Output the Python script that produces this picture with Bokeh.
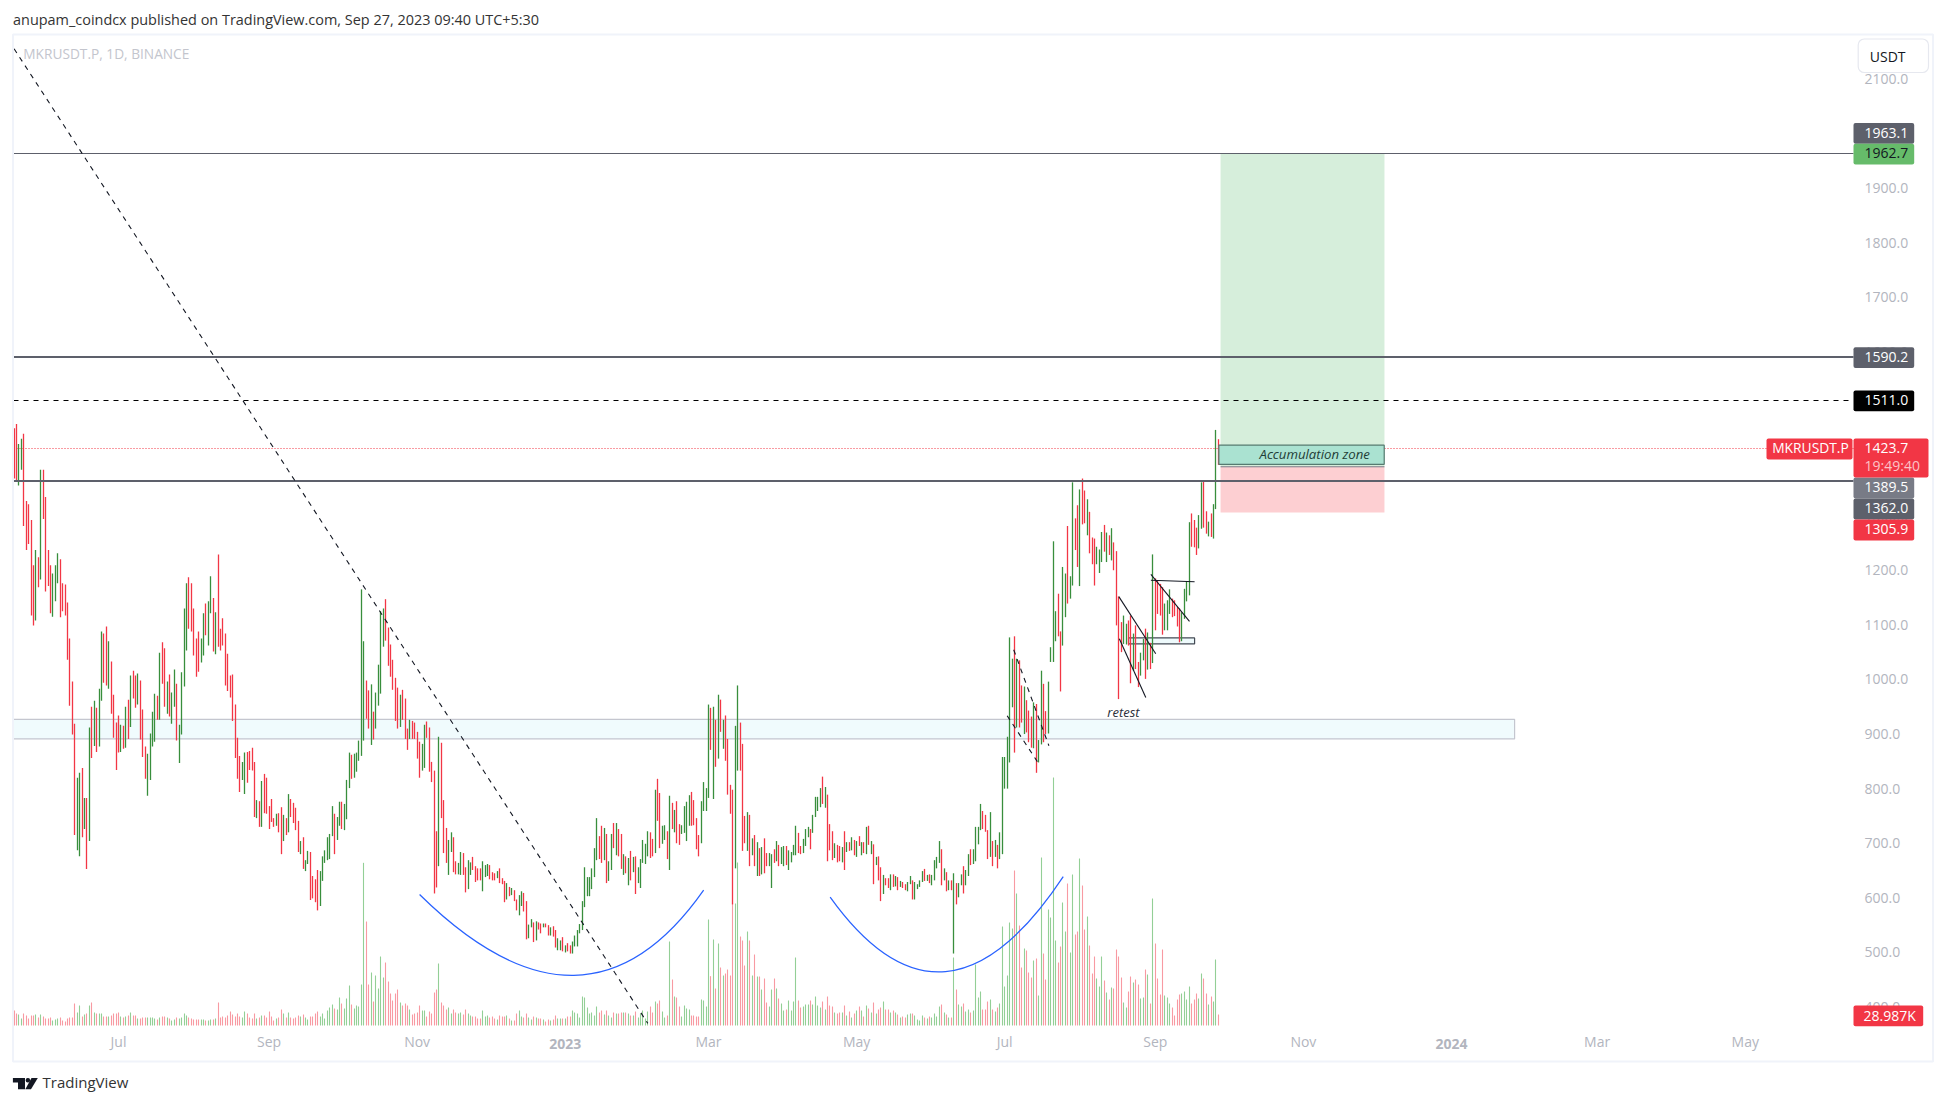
from bokeh.plotting import figure
from bokeh.models import Range1d, BoxAnnotation, Label, FixedTicker, NumeralTickFormatter, PolyAnnotation, LinearAxis
from bokeh.embed import file_html
from bokeh.resources import INLINE

FONT = "Open Sans"
GREEN, RED = "#388e3c", "#f23645"
VOL_GREEN, VOL_RED = "#93cf96", "#f89aa2"
GREY = "#5d606b"
AXIS_TXT = "#b2b5be"

# ---- daily bars, MKRUSDT.P (first bar 43 days before 1 Jul 2022) ----
first_day = -43
highs = [
 1460,1468,1431,1441,1450,1327,1321,1292,1209,1237,1224,1384,1384,1334,1237,1209,1194,1209,1231,1220,
 1176,1174,1141,1075,996,919,820,829,838,783,783,912,950,961,948,983,1088,1084,1097,1070,
 1033,972,921,934,917,915,950,963,1007,1016,1007,1011,998,945,877,864,901,941,974,970,
 1049,1068,1057,996,1009,976,1018,992,917,1013,1130,1176,1187,1176,1130,1075,1088,1075,1121,1139,
 1143,1189,1149,1123,1229,1093,1112,1084,1047,1007,1009,954,893,860,849,866,867,869,875,849,
 779,777,814,827,820,768,781,746,754,755,766,752,746,790,781,774,765,741,704,711,
 669,686,684,640,634,651,649,676,687,711,717,768,754,748,776,776,772,816,866,862,
 864,866,888,1165,1070,998,980,991,941,976,1027,1125,1130,1147,1095,1064,1036,1003,985,972,
 981,965,910,926,924,921,904,886,882,917,923,912,849,833,722,895,884,779,728,706,
 720,711,667,664,684,682,656,669,665,675,658,654,654,667,660,662,660,647,645,649,
 654,636,631,627,620,618,614,597,605,612,609,594,551,561,555,557,555,553,553,553,
 550,546,548,541,526,522,528,513,517,513,520,531,541,552,594,656,638,638,654,691,
 746,713,732,728,717,667,717,737,737,726,717,680,676,673,686,675,676,656,671,706,
 699,722,720,708,798,818,792,732,733,722,787,774,761,777,735,733,768,776,788,794,
 779,746,715,777,812,801,954,948,950,926,972,963,926,934,891,807,798,915,989,921,
 882,750,757,752,709,715,702,691,693,709,682,682,680,689,704,697,693,695,695,687,
 684,697,732,719,695,708,726,730,726,752,785,785,801,822,803,789,735,722,700,697,
 695,693,722,702,702,711,706,704,713,702,702,730,732,704,698,675,676,656,642,636,
 636,643,643,640,638,631,629,625,629,640,632,629,625,632,649,653,642,643,642,669,
 675,704,689,654,647,632,632,645,627,627,643,658,651,680,689,689,730,730,772,759,
 752,724,757,704,706,697,720,858,858,895,1077,1038,1079,1038,1035,989,987,962,943,932,
 958,955,889,1016,992,942,996,1059,1253,1125,1157,1088,1206,1194,1281,1189,1361,1295,1319,1348,
 1368,1346,1330,1307,1260,1258,1243,1238,1270,1283,1269,1264,1277,1251,1235,1152,1105,1117,1102,1108,
 1117,1084,1099,1032,1049,1074,1093,1086,1067,1229,1185,1182,1175,1169,1139,1145,1165,1148,1145,1133,
 1130,1123,1166,1180,1288,1304,1292,1278,1301,1361,1365,1308,1289,1304,1321,1457,1440]
lows = [
 1368,1365,1355,1384,1281,1237,1248,1117,1099,1108,1169,1183,1294,1161,1171,1121,1115,1143,1176,1114,
 1125,1117,1036,952,899,715,687,676,711,726,653,704,856,878,867,877,961,994,989,983,
 937,893,834,866,867,873,875,891,913,965,948,954,890,858,818,787,816,877,886,926,
 926,992,950,937,932,919,950,888,847,899,987,1053,1093,1088,1044,1005,1014,1031,1044,1081,
 1062,1121,1051,1046,1060,1053,1062,989,979,967,924,856,818,794,816,790,811,834,833,748,
 746,730,730,755,754,726,739,730,732,720,680,704,715,720,748,737,724,684,680,653,
 649,662,596,599,592,577,585,631,664,669,671,713,680,706,732,726,724,744,801,818,
 820,831,851,860,888,928,910,880,890,910,952,974,1060,1071,1025,1005,981,924,910,913,
 926,891,871,891,891,891,855,820,833,838,893,831,812,608,619,658,746,682,664,642,
 684,647,643,643,642,642,610,616,642,651,629,632,632,612,638,640,634,632,632,636,
 627,625,592,597,603,605,594,577,568,585,575,524,526,546,519,522,542,535,546,546,
 531,531,529,509,504,504,502,500,502,498,498,511,511,535,541,583,603,603,616,638,
 669,671,664,669,627,631,651,691,678,676,653,642,645,623,632,647,607,627,618,664,
 662,676,673,676,682,741,691,699,706,671,651,726,720,700,697,717,719,704,732,732,
 733,689,676,700,759,759,783,871,781,840,855,904,873,851,789,754,588,654,833,833,
 686,700,686,658,678,658,640,640,643,645,658,658,618,664,667,658,662,658,660,651,
 665,678,678,682,680,682,695,711,689,719,748,759,766,772,765,667,687,669,673,665,
 667,665,651,684,686,687,678,675,695,678,682,680,697,680,625,660,632,594,607,623,
 618,614,620,621,614,620,618,614,612,625,597,597,616,620,629,631,631,627,623,632,
 654,664,623,632,612,614,614,498,588,601,623,608,623,640,660,662,667,698,724,726,
 721,671,675,658,675,654,671,680,800,800,848,949,866,912,912,921,900,903,885,875,
 874,829,848,881,885,900,901,1032,1032,1070,1079,978,1062,1114,1139,1148,1172,1237,1206,1171,
 1284,1286,1264,1231,1211,1172,1211,1195,1215,1234,1215,1228,1218,1200,1099,964,1050,1065,1064,1062,
 993,1016,1019,986,1007,1035,1001,1018,1019,1030,1090,1120,1117,1082,1090,1090,1120,1114,1116,1097,
 1068,1070,1111,1143,1154,1243,1242,1228,1240,1276,1278,1267,1262,1261,1258,1312,1393]
directions = "".join([
 "rrggrrrrrgrgrrrrgggr","rrrrrrggrgrgrgrggrrg","rrrrgrgrgrrgrrrggggr","grrgrggrggggrrrrrggr",
 "ggrgrrrrrrrrrrggrrrr","grgrrrrrgrrgrgrrrrgr","ggrrrrggggggrggrgggr","gggggrrgrggggrrrrrrg",
 "rrrgrrrrggrrrrrgrrrg","grrggrrggrrrrgggrrrg","rrrgrgrrggrrggrgrrgr","rgrrggrgrrgggggggggg",
 "grrgrggrgrrgrgrgrggg","ggrrgrrggrgrgrrggggr","rrrggggrgrgrgrrrrggr","rrgrgrgrgrrggrgrggrg",
 "gggrrgggrggggrgrrrgr","rgrgrgrgrgrgrgrgrrgr","rgrgrgrrggrggggrgrgg","ggrgrgrgrggrggrggggr",
 "rrgrgrggggggrgrrgrrr","grggrrggggrrggrggrrg","rrgrrrgggrgrgrrrrggr","rgrrggrgrgrrrrgggrrr",
 "rggggrrrggrrgrggr"])
# bar heights of the volume study; the last one is the 28.987K of the tag
volume_units = [
 45,36,33,21,36,30,21,30,30,33,24,33,27,21,21,24,15,18,21,24,
 15,12,21,24,24,66,39,60,27,33,36,60,69,39,36,36,36,27,27,27,
 30,36,36,39,27,24,27,30,39,30,30,21,21,24,24,24,24,24,21,18,
 24,27,27,24,21,15,18,24,21,24,36,30,24,21,18,18,18,18,18,15,
 15,18,18,21,69,24,27,24,30,42,33,27,36,27,24,42,36,24,21,36,
 21,24,30,30,24,42,27,15,21,24,48,36,24,39,24,21,24,30,27,33,
 24,18,27,27,36,42,27,36,21,45,54,63,51,48,84,66,51,81,120,63,
 51,60,57,123,488,312,123,159,72,150,111,207,144,189,132,96,75,96,108,69,
 60,66,60,48,33,36,39,60,45,45,27,42,36,99,108,186,69,60,48,54,
 36,48,39,36,39,33,48,36,30,27,27,21,21,45,27,30,24,27,21,18,
 30,27,27,30,21,15,15,36,45,27,24,36,24,18,27,24,21,21,18,12,
 18,15,18,30,21,21,21,21,27,27,45,39,36,24,87,84,54,36,39,30,
 57,39,45,33,45,30,24,39,36,36,39,39,39,36,30,30,42,24,36,45,
 21,42,57,39,72,66,75,42,24,30,252,138,87,84,57,27,60,51,48,30,
 30,27,27,78,75,57,318,148,258,111,246,174,150,156,168,150,369,366,489,267,
 255,180,282,255,150,213,147,147,108,141,69,57,108,141,111,81,66,45,48,75,
 45,72,204,75,54,57,63,63,75,63,87,60,54,72,48,87,60,57,39,36,
 39,39,60,30,42,24,36,45,57,45,27,60,51,39,69,36,48,54,72,48,
 48,39,45,39,33,24,27,24,33,36,36,30,18,15,30,24,21,27,24,36,
 27,57,63,39,33,24,24,204,108,63,57,66,42,48,39,45,183,84,102,48,
 48,72,78,48,42,54,66,297,117,150,309,291,465,396,300,174,231,225,159,144,
 195,201,90,504,216,138,348,324,744,255,189,237,369,282,426,219,453,273,282,501,
 420,288,327,240,156,207,141,117,207,135,99,78,114,111,228,207,144,69,54,102,
 147,129,138,123,81,84,168,153,66,381,246,141,93,228,90,84,66,54,30,78,
 93,96,102,78,117,66,78,96,81,156,141,96,63,87,72,198,33]

y_ticks = [2100,1900,1800,1700,1600,1500,1400,1300,1200,1100,1000,900,800,700,600,500,400]
month_days = [0,62,123,243,304,365,427,488,609,670]   # days since 1 Jul 2022
month_labels = ["Jul","Sep","Nov","Mar","May","Jul","Sep","Nov","Mar","May"]
year_days = [184,549]
year_labels = ["2023","2024"]

last_price = 1423.7
levels = [1962.7, 1590.2, 1511.0, 1362.0]
zone = (-43.3, 575, 891, 927)                   # support band
position_x = (453.9, 521.4)
position_prices = (1962.7, 1389.5, 1305.9)
accum = (453.2, 521.3, 1394, 1429)
small_zone = (416, 443.2, 1065, 1076)
solid_trends = [((412,427.2),(1151.7,1047)), ((412.2,423.1),(1074.5,967)),
                ((425.2,441.1),(1192.6,1106.3)), ((425.2,443.2),(1181.7,1179))]
dashed_trends = [((-43,218),(2155,370)), ((368.7,383.2),(1054.3,878.5)), ((366,379.4),(933.6,843))]
arcs = [(124,606,241,614,192.5,306), (293.1,601.5,389.1,639,340.1,309.8)]

# ---- scale constants and page-pixel helpers for the chrome round the chart ----
PX0, PX_DAY = 118, 2.428
PY0, PY_UNIT = 447.6, 0.546
X = lambda px: (px - PX0) / PX_DAY
Y = lambda py: last_price - (py - PY0) / PY_UNIT
to_px = lambda d: PX0 + PX_DAY * d
to_py = lambda v: PY0 - (v - last_price) * PY_UNIT
TOP, BASE, PANE_RIGHT = 32, 1025, 1853

p = figure(width=1946, height=1105, output_backend="svg", toolbar_location=None,
           x_range=Range1d(X(0), X(1946)), y_range=Range1d(Y(1105), Y(TOP)),
           x_axis_type=None, y_axis_type=None, min_border_left=0, min_border_right=0,
           min_border_top=TOP, min_border_bottom=0, background_fill_color=None,
           border_fill_color="white")
p.extra_y_ranges = {"vol": Range1d(-(1105 - BASE) * 3, (BASE - TOP) * 3)}
p.outline_line_color = None

yax = LinearAxis(fixed_location=X(PANE_RIGHT), ticker=FixedTicker(ticks=y_ticks),
                 formatter=NumeralTickFormatter(format="0.0"), major_label_standoff=11)
xax = LinearAxis(fixed_location=Y(BASE), ticker=FixedTicker(ticks=month_days),
                 major_label_overrides=dict(zip(month_days, month_labels)), major_label_standoff=6)
for ax in (xax, yax):
    ax.axis_line_color = None
    ax.major_tick_line_color = None
    ax.minor_tick_line_color = None
    ax.major_tick_out = 0
    ax.major_tick_in = 0
    ax.major_label_text_font = FONT
    ax.major_label_text_font_size = "14px"
    ax.major_label_text_color = AXIS_TXT
p.add_layout(yax, "right")
p.add_layout(xax, "below")

# title line above the chart
p.title.text = "anupam_coindcx published on TradingView.com, Sep 27, 2023 09:40 UTC+5:30"
p.title.text_font = FONT
p.title.text_font_size = "14.45px"
p.title.text_font_style = "normal"
p.title.text_color = "#333333"
p.title.align = "left"
p.title.offset = 12.5
p.title.standoff = 7

# zones and position drawn under the bars
p.quad(left=zone[0], right=zone[1], bottom=zone[2], top=zone[3], fill_color="#f0fbfd",
       line_color="#c4c6cf", line_width=1.2)
p.quad(left=position_x[0], right=position_x[1], bottom=position_prices[1], top=position_prices[0],
       fill_color="#d6eedb", line_color=None)
p.quad(left=position_x[0], right=position_x[1], bottom=position_prices[2], top=position_prices[1],
       fill_color="#fdcfd2", line_color=None)
p.quad(left=small_zone[0], right=small_zone[1], bottom=small_zone[2], top=small_zone[3],
       fill_color="#eefafc", line_color="#434a54", line_width=1.2)

# volume study; day positions land on whole pixels like the original's bars
days = [X(round(to_px(first_day + i))) for i in range(len(highs))]
vol_colors = [VOL_GREEN if d == "g" else VOL_RED for d in directions]
bar_colors = [GREEN if d == "g" else RED for d in directions]
p.segment(x0=days, y0=[0] * len(days), x1=days, y1=volume_units, line_color=vol_colors,
          line_width=1.1, y_range_name="vol")

# price bars
p.segment(x0=days, y0=lows, x1=days, y1=highs, line_color=bar_colors, line_width=1.3)

# horizontal levels
pane_l, pane_r = X(13), X(PANE_RIGHT)
def level(v, color, width, dash="solid"):
    py = round(to_py(v)) - (0.5 if width == 2 else 0)
    p.segment(x0=[pane_l], x1=[pane_r], y0=[Y(py)], y1=[Y(py)], line_color=color, line_width=width, line_dash=dash)
level(levels[0], GREY, 1)
level(levels[1], GREY, 2)
level(levels[2], "#000000", 1, "5 5")
level(levels[3], GREY, 2)
level(last_price, RED, 1, "1 2")
p.segment(x0=[position_x[0]], x1=[position_x[1]], y0=[position_prices[1]], y1=[position_prices[1]],
          line_color="#787b86", line_width=1)

# accumulation box
p.quad(left=accum[0], right=accum[1], bottom=accum[2], top=accum[3], fill_color="#aae2d1",
       line_color="#557a70", line_width=1.2)

# drawings
for xs, ys in dashed_trends:
    p.line(list(xs), list(ys), line_color="#131722", line_width=1.1, line_dash="5 5")
for xs, ys in solid_trends:
    p.line(list(xs), list(ys), line_color="#131722", line_width=1.1)
for a in arcs:
    p.quadratic(x0=[a[0]], y0=[a[1]], x1=[a[2]], y1=[a[3]], cx=[a[4]], cy=[a[5]],
                line_color="#2962ff", line_width=1.25)

def label(px, py, text, color, size="14px", style="normal", align="left", font=FONT):
    p.add_layout(Label(x=X(px), y=Y(py), text=text, text_color=color, text_font=font,
                       text_font_size=size, text_font_style=style, text_align=align,
                       text_baseline="middle", level="overlay"))

def box(x0, x1, y0, y1, fill, line=None, radius=0, width=1):
    p.add_layout(BoxAnnotation(left=X(x0), right=X(x1), top=Y(y0), bottom=Y(y1), fill_color=fill,
                               fill_alpha=1.0 if fill else 0, line_color=line, line_alpha=1 if line else 0,
                               line_width=width, border_radius=radius, level="overlay",
                               editable=False))

label(1259, 453.5, "Accumulation zone", "#1f3d36", size="13.2px", style="italic")
label(1123, 711.5, "retest", "#2a2e39", size="13px", style="italic", align="center")
label(22.8, 53, "MKRUSDT.P, 1D, BINANCE", "#c3c5cd", size="13.7px")

# year marks of the time axis
for d, t in zip(year_days, year_labels):
    label(to_px(d), 1043.5, t, AXIS_TXT, style="bold", align="center")

# panel frame
box(12.5, 1932.5, 34, 1061, None, "#f0f3fa", 0, 2)
box(1857.7, 1928, 38.5, 72, "#ffffff", "#e6e8ef", 6, 1.2)
label(1869.3, 56, "USDT", "#131722", size="14px")

# price tags
tags = [("1963.1", 122.5, 143.3, GREY, "#ffffff"), ("1962.7", 143.3, 164, "#66bb6a", "#131722"),
        ("1590.2", 346.7, 367.5, GREY, "#ffffff"), ("1511.0", 390, 410.8, "#000000", "#ffffff"),
        ("1389.5", 477, 498, "#787b86", "#ffffff"), ("1362.0", 498, 519, GREY, "#ffffff"),
        ("1305.9", 519, 540, RED, "#ffffff")]
for text, y0, y1, bg, fg in tags:
    box(1853, 1913.7, y0, y1, bg, None, 2)
    label(1864, (y0 + y1) / 2 - 0.8, text, fg)
box(1853, 1928, 437.9, 477, RED, None, 2)
label(1864, 447.3, "1423.7", "#ffffff")
label(1864, 465, "19:49:40", "#fcc3c7")
box(1766, 1852, 437.9, 459, RED, None, 2)
label(1771.7, 447.3, "MKRUSDT.P", "#ffffff", size="13.8px")
box(1853, 1922.7, 1004.9, 1025.8, RED, None, 2)
label(1863, 1015, "28.987K", "#ffffff")

# footer logo and name
def poly(pts):
    p.add_layout(PolyAnnotation(xs=[X(a) for a, _ in pts], ys=[Y(b) for _, b in pts],
                                fill_color="#131722", fill_alpha=1, line_color=None, level="overlay",
                                editable=False))
poly([(12.4, 1077.4), (24.5, 1077.4), (24.5, 1088.8), (17.5, 1088.8), (17.5, 1082), (12.4, 1082)])
poly([(31, 1077.4), (37.3, 1077.4), (30.5, 1088.8), (24.8, 1088.8)])
box(25.2, 29.6, 1077.5, 1081.9, "#131722", None, 2)
label(42, 1081, "TradingView", "#333333", size="15px")

open("out.html", "w").write(file_html(p, INLINE))
